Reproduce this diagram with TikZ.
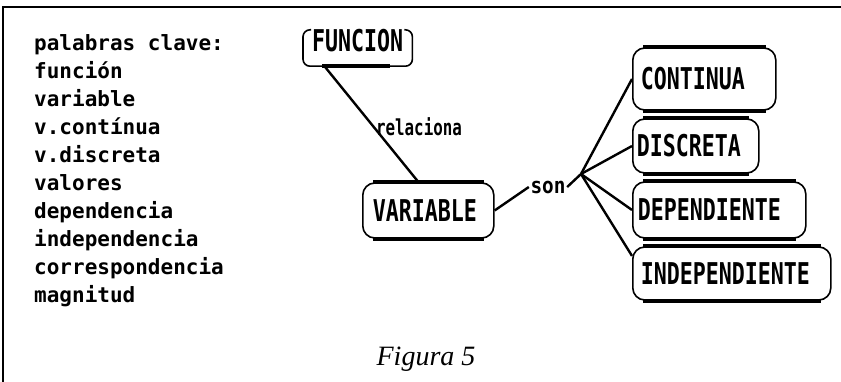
\documentclass[tikz,border=0pt]{standalone}
\usepackage{fontspec}
\usepackage{graphicx}
\newfontfamily\pixfont{DejaVu Sans Mono Bold}
\newfontfamily\figfont{Liberation Serif Italic}
% tall, narrow capitals for the concept boxes
\newcommand\capword[1]{\scalebox{0.72}[1]{\pixfont\fontsize{30}{30}\selectfont #1}}
% lowercase link words, horizontal squeeze given as first argument
\newcommand\lowword[2]{\scalebox{#1}[1]{\pixfont\fontsize{22}{22}\selectfont #2}}

\begin{document}
\begin{tikzpicture}[x=1pt,y=-1pt,
  capsule/.style={draw, line width=1.6pt, rounded corners=12pt, inner ysep=0pt, anchor=west},
  bar/.style={line width=4.5pt},
  link/.style={line width=2.4pt},
  plain/.style={inner sep=1.5pt}]
\useasboundingbox (0,0) rectangle (841,382);

% frame edges
\draw[line width=1.5pt] (3,382) -- (3,7) -- (841,7);

% keyword list
\node[anchor=north west, align=left, inner sep=0pt,
      font=\pixfont\fontsize{21}{28}\selectfont] (kw) at (34,34)
  {palabras clave:\\función\\variable\\v.contínua\\v.discreta\\valores\\dependencia\\independencia\\correspondencia\\magnitud};

% concept boxes
\node[anchor=west, minimum width=109pt, minimum height=38pt, inner sep=0pt] (f) at (303,47)
  {\makebox[95pt][c]{\raisebox{0pt}[22pt][12pt]{\capword{FUNCION}}}};
\node[capsule, minimum width=131pt, minimum height=55pt, inner xsep=10pt] (v) at (362,210.5)
  {\makebox[111pt][l]{\capword{VARIABLE}}};
\node[capsule, minimum width=143pt, minimum height=62pt, inner xsep=8pt] (c) at (632,79)
  {\makebox[127pt][l]{\capword{CONTINUA}}};
\node[capsule, minimum width=126pt, minimum height=54pt, inner xsep=4pt] (d) at (632,146)
  {\makebox[118pt][l]{\capword{DISCRETA}}};
\node[capsule, minimum width=173pt, minimum height=56pt, inner xsep=5pt] (dep) at (632,210)
  {\makebox[163pt][l]{\capword{DEPENDIENTE}}};
\node[capsule, minimum width=198pt, minimum height=53pt, inner xsep=8pt] (ind) at (632,273.5)
  {\makebox[182pt][l]{\capword{INDEPENDIENTE}}};

% open-topped outline of FUNCION
\draw[line width=1.6pt, rounded corners=7pt]
  ([xshift=8pt,yshift=-2pt]f.north west) -- ([yshift=-2pt]f.north west) -- (f.south west)
  -- (f.south east) -- ([yshift=-2pt]f.north east) -- ([xshift=-8pt,yshift=-2pt]f.north east);
\draw[bar] ([xshift=19pt]f.south west) -- ([xshift=-22pt]f.south east);

% heavy top and bottom edges of the capsules
\foreach \n in {v,c,d,dep,ind} {
  \draw[bar] ([xshift=11pt]\n.north west) -- ([xshift=-11pt]\n.north east);
  \draw[bar] ([xshift=11pt]\n.south west) -- ([xshift=-11pt]\n.south east);
}

% links
\draw[link] (f.210) -- node[pos=0.52, anchor=west, plain] (rel) {\lowword{0.72}{relaciona}} (v.109);
\node[plain] (son) at (548,187) {\lowword{0.88}{son}};
\coordinate (hub) at (581,174);
\draw[link] (v.east) -- (son.west);
\draw[link] (son.east) -- (hub);
\foreach \t in {c.west, d.west, dep.west, ind.170}
  \draw[link] (hub) -- (\t);

% caption
\node[anchor=base, inner sep=0pt, font=\figfont\fontsize{28}{28}\selectfont] (cap) at (426,365) {Figura 5};
\end{tikzpicture}
\end{document}
